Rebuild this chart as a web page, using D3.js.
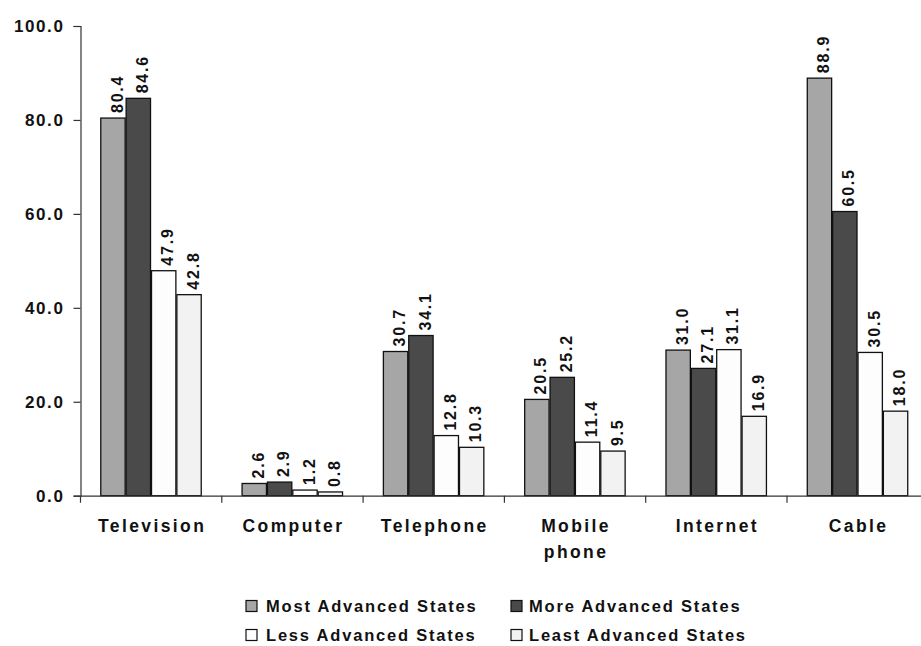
<!DOCTYPE html>
<html>
<head>
<meta charset="utf-8">
<script src="https://cdn.jsdelivr.net/npm/d3@7"></script>
<style>
  html, body { margin: 0; padding: 0; background: #fff; }
  svg { display: block; }
</style>
</head>
<body>
<svg id="chart" width="921" height="646"></svg>
<script>
const categories = ["Television", "Computer", "Telephone", "Mobile phone", "Internet", "Cable"];
const seriesNames = ["Most Advanced States", "More Advanced States", "Less Advanced States", "Least Advanced States"];
const mostAdvanced  = [80.4, 2.6, 30.7, 20.5, 31.0, 88.9];
const moreAdvanced  = [84.6, 2.9, 34.1, 25.2, 27.1, 60.5];
const lessAdvanced  = [47.9, 1.2, 12.8, 11.4, 31.1, 30.5];
const leastAdvanced = [42.8, 0.8, 10.3, 9.5, 16.9, 18.0];
const yTicks = [0, 20, 40, 60, 80, 100];
const colors = ["#a6a6a6", "#4a4a4a", "#fdfdfd", "#f2f2f2"];

const seriesValues = [mostAdvanced, moreAdvanced, lessAdvanced, leastAdvanced];

const svg = d3.select("#chart");
const margin = { left: 80.5, top: 26, bottom: 495.7 };
const plotRight = 928.3;

const x0 = d3.scaleBand().domain(categories).range([margin.left, plotRight]).padding(0);
const bw = x0.bandwidth();
const x1 = d3.scaleBand().domain(seriesNames).range([bw * 0.14, bw * 0.858]).padding(0);
const y = d3.scaleLinear().domain([0, 100]).range([margin.bottom, margin.top]);

const fontFam = "'Liberation Sans', Arial, sans-serif";

// Y axis
const yAxis = svg.append("g")
  .attr("transform", `translate(${margin.left},0)`)
  .call(d3.axisLeft(y).tickValues(yTicks).tickFormat(d3.format(".1f")).tickSize(7).tickPadding(9));
yAxis.select(".domain").attr("stroke", "#333").attr("stroke-width", 1.2);
yAxis.selectAll(".tick line").attr("stroke", "#333").attr("stroke-width", 1.2);
yAxis.selectAll(".tick text")
  .attr("font-family", fontFam).attr("font-weight", "bold")
  .attr("font-size", 17).attr("letter-spacing", "1.6px").attr("fill", "#111");

// Bars
const groups = svg.append("g").selectAll("g")
  .data(categories.map((c, i) => ({ c, i })))
  .join("g")
  .attr("transform", d => `translate(${x0(d.c)},0)`);

groups.selectAll("rect")
  .data(d => seriesNames.map((s, k) => ({ s, k, v: seriesValues[k][d.i] })))
  .join("rect")
  .attr("x", d => x1(d.s) + 0.5)
  .attr("width", x1.bandwidth() - 1)
  .attr("y", d => y(d.v))
  .attr("height", d => y(0) - y(d.v))
  .attr("fill", d => colors[d.k])
  .attr("stroke", "#111")
  .attr("stroke-width", 1.3);

groups.selectAll("text")
  .data(d => seriesNames.map((s, k) => ({ s, k, v: seriesValues[k][d.i] })))
  .join("text")
  .attr("transform", d => `translate(${x1(d.s) + x1.bandwidth() / 2 + 4},${y(d.v) - 5}) rotate(-90)`)
  .attr("dy", "0.35em")
  .attr("text-anchor", "start")
  .attr("font-family", fontFam)
  .attr("font-weight", "bold")
  .attr("font-size", 16)
  .attr("letter-spacing", "1.8px")
  .attr("fill", "#111")
  .text(d => d3.format(".1f")(d.v));

// X axis
const xAxis = svg.append("g")
  .attr("transform", `translate(0,${margin.bottom})`)
  .call(d3.axisBottom(x0).tickSize(0).tickFormat(() => ""));
xAxis.select(".domain").attr("stroke", "#333").attr("stroke-width", 1.2);
xAxis.selectAll(".tick").remove();

// category boundary ticks
const boundaries = categories.map(c => x0(c)).concat([plotRight]);
svg.append("g").selectAll("line")
  .data(boundaries)
  .join("line")
  .attr("x1", d => d).attr("x2", d => d)
  .attr("y1", margin.bottom).attr("y2", margin.bottom + 7)
  .attr("stroke", "#333").attr("stroke-width", 1.2);

// category labels
svg.append("g").selectAll("text")
  .data(categories)
  .join("text")
  .attr("x", d => x0(d) + bw / 2 + 1)
  .attr("y", 532)
  .attr("text-anchor", "middle")
  .attr("font-family", fontFam).attr("font-weight", "bold")
  .attr("font-size", 17.5).attr("letter-spacing", "2.4px").attr("fill", "#111")
  .each(function(d) {
    const words = d.split(" ");
    const t = d3.select(this);
    words.forEach((w, i) => {
      t.append("tspan").attr("x", x0(d) + bw / 2 + 1).attr("dy", i === 0 ? 0 : 26).text(w);
    });
  });

// Legend
const legendPos = [
  { mx: 246, ty: 606 },
  { mx: 511, ty: 606 },
  { mx: 246, ty: 635 },
  { mx: 511, ty: 635 }
];
const legend = svg.append("g").selectAll("g")
  .data(seriesNames.map((s, k) => ({ s, k })))
  .join("g")
  .attr("transform", d => `translate(${legendPos[d.k].mx},${legendPos[d.k].ty})`);
legend.append("rect")
  .attr("x", 0).attr("y", -5.5).attr("width", 11).attr("height", 11)
  .attr("fill", d => colors[d.k]).attr("stroke", "#111").attr("stroke-width", 1.2);
legend.append("text")
  .attr("x", d => d.k % 2 === 0 ? 20 : 18)
  .attr("y", 0).attr("dy", "0.35em")
  .attr("font-family", fontFam).attr("font-weight", "bold")
  .attr("font-size", 16.5).attr("letter-spacing", "1.8px").attr("fill", "#111")
  .text(d => d.s);
</script>
</body>
</html>
